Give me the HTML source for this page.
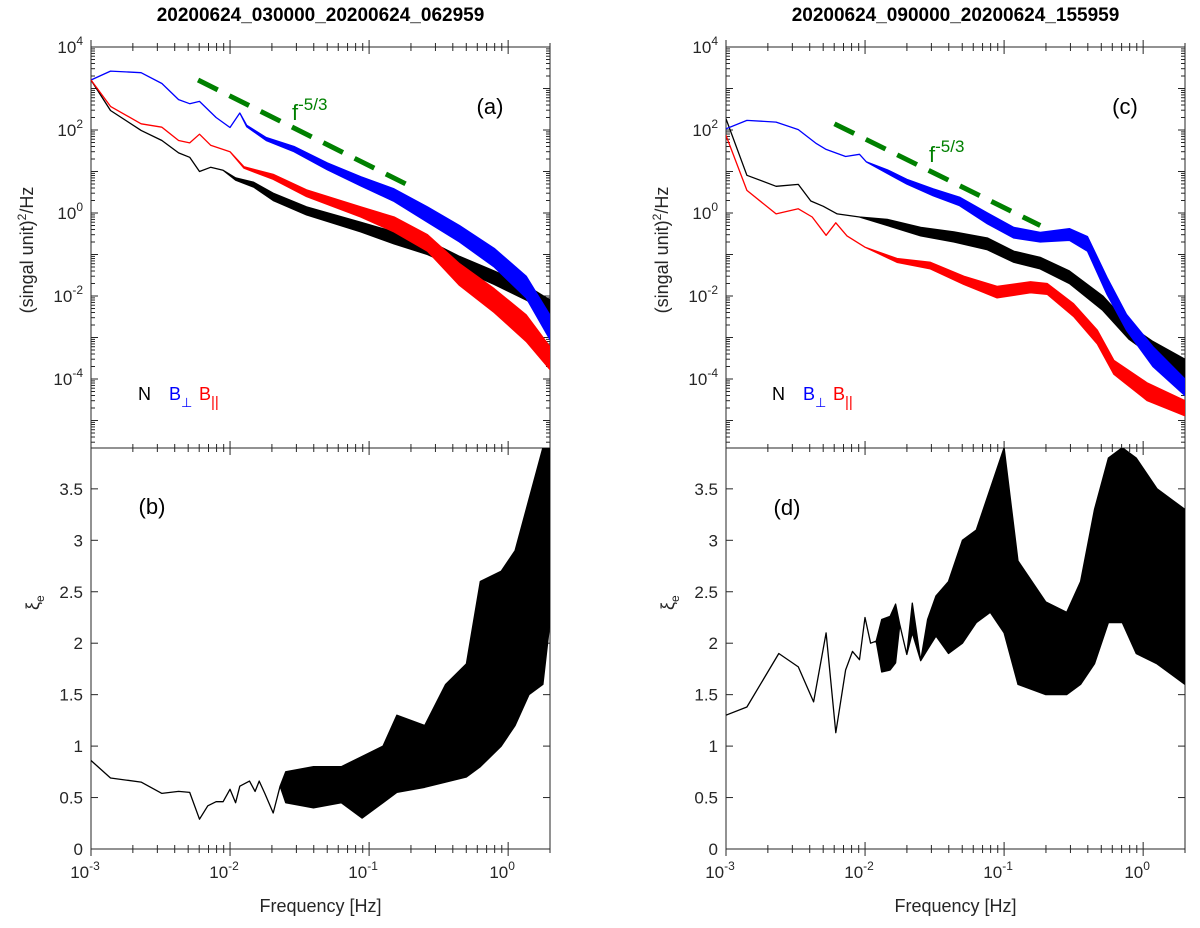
<!DOCTYPE html>
<html><head><meta charset="utf-8"><style>
body{margin:0;background:#fff;}
svg{display:block;font-family:"Liberation Sans",sans-serif;}
</style></head><body>
<svg id="fig" width="1200" height="928" viewBox="0 0 1200 928"></svg>
<script>
// ---- data (log10 frequency grid and values) ----
const aF=[-3,-2.86,-2.64,-2.49,-2.37,-2.29,-2.22,-2.1,-2.0,-1.93,-1.88,-1.74,-1.54,-1.3,-1.06,-0.82,-0.58,-0.35,-0.1,0.13,0.3];
const aBlueHi=[1600,2630,2400,1320,540,430,490,200,115,257,130,66,40,16,7.5,3.8,1.4,0.5,0.14,0.03,0.0035];
const aBlueLo=[1600,2630,2400,1320,540,430,490,200,115,257,120,56,30,11,4.5,1.9,0.6,0.2,0.05,0.009,0.0009];
const aRedF=[-3,-2.86,-2.64,-2.49,-2.37,-2.29,-2.22,-2.14,-2.0,-1.9,-1.69,-1.45,-1.06,-0.82,-0.58,-0.35,-0.1,0.13,0.3];
const aRedHi=[1600,370,141,117,56,49,79,43,30,13,8.5,3.6,1.4,0.8,0.3,0.06,0.015,0.0035,0.0006];
const aRedLo=[1600,370,141,117,56,49,79,43,30,12,6.5,2.5,0.8,0.35,0.12,0.018,0.004,0.0008,0.00017];
const aBlkF=[-3,-2.86,-2.64,-2.49,-2.37,-2.29,-2.22,-2.14,-2.05,-1.96,-1.83,-1.69,-1.45,-1.06,-0.82,-0.58,-0.35,-0.1,0.13,0.3];
const aBlkHi=[1600,295,98,56,28,22,10,12.6,10.7,7,5.5,3,1.4,0.6,0.35,0.22,0.09,0.04,0.018,0.008];
const aBlkLo=[1600,295,98,56,28,22,10,12.6,10.7,6.2,4.2,2,0.9,0.35,0.18,0.1,0.045,0.019,0.008,0.0035];

const cF=[-3,-2.85,-2.64,-2.48,-2.35,-2.28,-2.14,-2.04,-1.99,-1.84,-1.7,-1.51,-1.32,-1.12,-0.93,-0.74,-0.53,-0.4,-0.26,-0.12,0.07,0.3];
const cBlueHi=[107,170,155,102,47,34,23,26,17,11,6.5,3.8,2.4,1.0,0.45,0.34,0.42,0.27,0.028,0.0036,0.0006,0.0001];
const cBlueLo=[107,170,155,102,47,34,23,26,17,9,5,2.6,1.5,0.55,0.25,0.2,0.22,0.12,0.011,0.0015,0.0002,0.00004];
const cBlkF=[-3,-2.85,-2.64,-2.48,-2.39,-2.3,-2.2,-2.04,-1.84,-1.6,-1.36,-1.12,-0.93,-0.74,-0.53,-0.29,-0.1,0.07,0.3];
const cBlkHi=[186,8.1,4.4,4.9,1.95,1.45,0.95,0.8,0.7,0.45,0.35,0.25,0.12,0.085,0.04,0.01,0.002,0.0008,0.0003];
const cBlkLo=[186,8.1,4.4,4.9,1.95,1.45,0.95,0.8,0.5,0.28,0.2,0.13,0.065,0.045,0.02,0.0045,0.0009,0.00035,0.0001];
const cRedF=[-3,-2.85,-2.64,-2.48,-2.38,-2.28,-2.21,-2.13,-2.0,-1.77,-1.53,-1.29,-1.05,-0.81,-0.69,-0.5,-0.33,-0.21,0.03,0.3];
const cRedHi=[74,3.5,0.95,1.26,0.8,0.29,0.58,0.28,0.15,0.08,0.065,0.03,0.017,0.022,0.02,0.0065,0.0015,0.00028,0.00008,0.00003];
const cRedLo=[74,3.5,0.95,1.26,0.8,0.29,0.58,0.28,0.15,0.065,0.045,0.019,0.009,0.012,0.011,0.0032,0.0007,0.00013,0.00003,0.000013];

const bF=[-3,-2.86,-2.64,-2.49,-2.37,-2.29,-2.22,-2.16,-2.1,-2.05,-2.0,-1.96,-1.93,-1.86,-1.82,-1.79,-1.75,-1.69,-1.64,-1.6,-1.4,-1.2,-1.05,-0.9,-0.8,-0.6,-0.45,-0.3,-0.2,-0.05,0.05,0.15,0.25,0.3];
const bHi=[0.86,0.69,0.65,0.54,0.56,0.55,0.29,0.42,0.46,0.46,0.58,0.45,0.61,0.66,0.56,0.66,0.54,0.35,0.61,0.75,0.8,0.8,0.9,1.0,1.3,1.2,1.6,1.8,2.6,2.7,2.9,3.4,3.9,3.9];
const bLo=[0.86,0.69,0.65,0.54,0.56,0.55,0.29,0.42,0.46,0.46,0.58,0.45,0.61,0.66,0.56,0.66,0.54,0.35,0.61,0.45,0.4,0.45,0.3,0.45,0.55,0.6,0.65,0.7,0.8,1.0,1.2,1.5,1.6,2.2];
const dF=[-3,-2.85,-2.62,-2.48,-2.37,-2.28,-2.21,-2.14,-2.09,-2.04,-2.0,-1.96,-1.92,-1.88,-1.82,-1.78,-1.75,-1.7,-1.66,-1.6,-1.55,-1.49,-1.4,-1.3,-1.2,-1.1,-1.0,-0.9,-0.7,-0.55,-0.45,-0.35,-0.25,-0.15,-0.05,0.1,0.2,0.3];
const dHi=[1.3,1.38,1.9,1.77,1.43,2.1,1.13,1.74,1.92,1.84,2.25,2.0,2.02,2.23,2.26,2.38,2.18,1.89,2.39,1.83,2.23,2.46,2.6,3.0,3.1,3.5,3.9,2.8,2.4,2.3,2.6,3.3,3.8,3.9,3.8,3.5,3.4,3.3];
const dLo=[1.3,1.38,1.9,1.77,1.43,2.1,1.13,1.74,1.92,1.84,2.25,2.0,2.02,1.72,1.74,1.81,2.18,1.89,2.1,1.83,1.94,2.07,1.9,2.0,2.2,2.3,2.1,1.6,1.5,1.5,1.6,1.8,2.2,2.2,1.9,1.8,1.7,1.6];

const xTicks=["10","10","10","10"], xExp=["-3","-2","-1","0"];
const yTicks=[4,2,0,-2,-4];
const xiTicks=["0","0.5","1","1.5","2","2.5","3","3.5"];

// ---- drawing ----
const svg=document.getElementById('fig');
const NS='http://www.w3.org/2000/svg';
function el(tag,attrs,parent){const e=document.createElementNS(NS,tag);for(const k in attrs)e.setAttribute(k,attrs[k]);(parent||svg).appendChild(e);return e;}
const TOP=47,MID=448,BOT=849;
function makePanel(x0,x1,id){
  const dec=(x1-x0)/(Math.log10(2)+3);
  const X=lf=>x0+(lf+3)*dec;
  const YP=v=>TOP+(4-Math.log10(v))*41.5;
  const YX=v=>BOT-v*102.9;
  return {X,YP,YX,x0,x1,id};
}
function area(p,f,hi,lo,Y,color,name,clipId){
  let d='M';
  for(let i=0;i<f.length;i++)d+=(i?'L':'')+p.X(f[i]).toFixed(1)+','+Y(hi[i]).toFixed(1);
  for(let i=f.length-1;i>=0;i--)d+='L'+p.X(f[i]).toFixed(1)+','+Y(lo[i]).toFixed(1);
  d+='Z';
  const e=el('path',{d:d,fill:color,stroke:color,'stroke-width':1.3,'stroke-linejoin':'round','clip-path':'url(#'+clipId+')'});
  
  
}
function text(x,y,s,opt,name){
  const t=el('text',Object.assign({x:x,y:y,'font-size':17,fill:'#262626'},opt||{}));
  t.textContent=s;
  
  
  return t;
}
function axes(p,title){
  const defs=el('defs',{});
  const c1=el('clipPath',{id:p.id+'t'},defs);el('rect',{x:p.x0,y:TOP,width:p.x1-p.x0,height:MID-TOP},c1);
  const c2=el('clipPath',{id:p.id+'b'},defs);el('rect',{x:p.x0,y:MID,width:p.x1-p.x0,height:BOT-MID},c2);
  const g=el('g',{stroke:'#262626','stroke-width':1,fill:'none'});
  
  
  el('rect',{x:p.x0,y:TOP,width:p.x1-p.x0,height:BOT-TOP},g);
  el('line',{x1:p.x0,y1:MID,x2:p.x1,y2:MID},g);
  for(let d=-3;d<=0;d++){for(let m=1;m<10;m++){const lf=d+Math.log10(m);if(lf>Math.log10(2))break;const x=p.X(lf);const L=m==1?7:4;
    [TOP,MID,BOT].forEach(yy=>{el('line',{x1:x,y1:yy,x2:x,y2:yy-L},g);el('line',{x1:x,y1:yy,x2:x,y2:yy+L},g);});}}
  for(let e=-6;e<=4;e++){for(let m=1;m<10;m++){const v=m*Math.pow(10,e);const y=p.YP(v);if(y<TOP||y>MID)continue;const L=m==1?7:4;
    el('line',{x1:p.x0,y1:y,x2:p.x0+L,y2:y},g);el('line',{x1:p.x1,y1:y,x2:p.x1-L,y2:y},g);}}
  for(let i=0;i<8;i++){const y=p.YX(i*0.5);el('line',{x1:p.x0,y1:y,x2:p.x0+7,y2:y},g);el('line',{x1:p.x1,y1:y,x2:p.x1-7,y2:y},g);}
  text((p.x0+p.x1)/2,21,title,{'font-weight':'bold','text-anchor':'middle','font-size':19,fill:'#000'},p.id+'-title');
  yTicks.forEach(e=>{const t=text(p.x0-8,p.YP(Math.pow(10,e))+6,'10',{'text-anchor':'end'},'y-tick-label');
    const s=el('tspan',{dy:-8,'font-size':12},t);s.textContent=String(e);});
  xiTicks.forEach((s,i)=>text(p.x0-8,p.YX(i*0.5)+6,s,{'text-anchor':'end'},'xi-tick-label'));
  xTicks.forEach((s,i)=>{const t=text(p.X(-3+i)-6,878,s,{'text-anchor':'middle'},'x-tick-label');
    const sp=el('tspan',{dy:-8,'font-size':12},t);sp.textContent=xExp[i];});
  text((p.x0+p.x1)/2,912,'Frequency [Hz]',{'text-anchor':'middle','font-size':18},p.id+'-x-axis-title');
  const yl=text(0,0,'(singal unit)',{'text-anchor':'middle','font-size':18,transform:'translate('+(p.x0-58)+',250) rotate(-90)'},p.id+'-y-axis-title');
  const sp=el('tspan',{dy:-7,'font-size':12},yl);sp.textContent='2';const sp2=el('tspan',{dy:7},yl);sp2.textContent='/Hz';
  const xl=text(0,0,'ξ',{'font-size':18,transform:'translate('+(p.x0-52)+',610) rotate(-90)'},p.id+'-xi-axis-title');
  const s3=el('tspan',{dy:5,'font-size':12},xl);s3.textContent='e';
}
const L=makePanel(91,550,'left'), R=makePanel(726,1185,'right');
axes(L,'20200624_030000_20200624_062959');
axes(R,'20200624_090000_20200624_155959');

area(L,aBlkF,aBlkHi,aBlkLo,L.YP,'#000','series-n-a','leftt');
area(L,aF,aBlueHi,aBlueLo,L.YP,'#0000ff','series-bperp-a','leftt');
area(L,aRedF,aRedHi,aRedLo,L.YP,'#ff0000','series-bpar-a','leftt');
area(R,cBlkF,cBlkHi,cBlkLo,R.YP,'#000','series-n-c','rightt');
area(R,cF,cBlueHi,cBlueLo,R.YP,'#0000ff','series-bperp-c','rightt');
area(R,cRedF,cRedHi,cRedLo,R.YP,'#ff0000','series-bpar-c','rightt');
area(L,bF,bHi,bLo,L.YX,'#000','xi-series-b','leftb');
area(R,dF,dHi,dLo,R.YX,'#000','xi-series-d','rightb');

const slopeA=[[-2.23,1600],[-0.73,4.9]], slopeC=[[-2.22,141],[-0.74,0.5]];
[[L,slopeA,'slope-line-a'],[R,slopeC,'slope-line-c']].forEach(([p,s,n])=>{
  const ln=el('line',{x1:p.X(s[0][0]),y1:p.YP(s[0][1]),x2:p.X(s[1][0]),y2:p.YP(s[1][1]),stroke:'#008000','stroke-width':5,'stroke-dasharray':'22,13'});
  
  
});
function fl(x,y,n){const t=text(x,y,'f',{fill:'#008000','font-size':22},n);const s=el('tspan',{dy:-10,'font-size':17},t);s.textContent='-5/3';}
fl(292,120,'slope-label-a');fl(929,162,'slope-label-c');

text(490,114,'(a)',{'text-anchor':'middle','font-size':22,fill:'#000'},'panel-label-a');
text(1125,114,'(c)',{'text-anchor':'middle','font-size':22,fill:'#000'},'panel-label-c');
text(152,514,'(b)',{'text-anchor':'middle','font-size':22,fill:'#000'},'panel-label-b');
text(787,515,'(d)',{'text-anchor':'middle','font-size':22,fill:'#000'},'panel-label-d');

function legend(x,n){
  text(x,400,'N',{fill:'#000','font-size':18},n+'-legend-n');
  const b=text(x+31,400,'B',{fill:'#0000ff','font-size':18},n+'-legend-bperp');
  const s=el('tspan',{dy:7,'font-size':13},b);s.textContent='⊥';
  const r=text(x+61,400,'B',{fill:'#ff0000','font-size':18},n+'-legend-bpar');
  const s2=el('tspan',{dy:7,'font-size':15},r);s2.textContent='||';
}
legend(138,'left');legend(772,'right');
</script>
</body></html>
